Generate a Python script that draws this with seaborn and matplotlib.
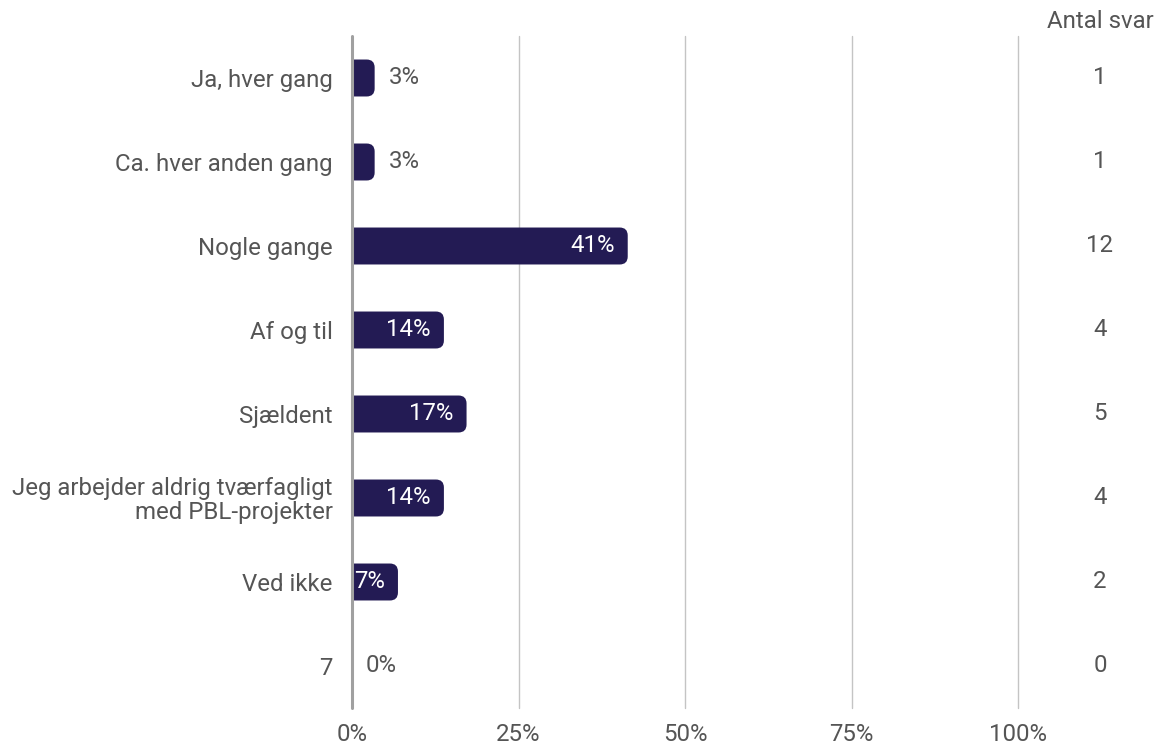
import matplotlib
matplotlib.use("Agg")
import matplotlib.pyplot as plt
import matplotlib.transforms as mtransforms
from matplotlib.path import Path
from matplotlib.patches import PathPatch
import seaborn as sns
import pandas as pd

categories = ["Ja, hver gang", "Ca. hver anden gang", "Nogle gange", "Af og til",
              "Sjældent", "Jeg arbejder aldrig tværfagligt\nmed PBL-projekter",
              "Ved ikke", "7"]
percentages = [3.4, 3.4, 41.4, 13.8, 17.2, 13.8, 6.9, 0.0]
pct_labels = ["3%", "3%", "41%", "14%", "17%", "14%", "7%", "0%"]
counts = [1, 1, 12, 4, 5, 4, 2, 0]
x_ticks = [0, 25, 50, 75, 100]
x_tick_labels = ["0%", "25%", "50%", "75%", "100%"]
count_header = "Antal svar"

BAR = "#231b54"
TXT = "#555555"
FS = 17.3

sns.set_theme(style="white")
plt.rcParams['font.family'] = ['Roboto', 'DejaVu Sans']

W, H = 1163, 747
fig = plt.figure(figsize=(W / 100, H / 100), dpi=100)
ax = fig.add_axes([352 / W, 39 / H, 666 / W, 672 / H])

df = pd.DataFrame({"cat": categories, "pct": percentages})
sns.barplot(data=df, y="cat", x="pct", orient="h", color=BAR, saturation=1,
            width=0.44, ax=ax, zorder=3)
ax.set_xlim(0, 100)
ax.set_ylim(len(categories) - 0.5, -0.5)

# replace bars with right-rounded shapes
rx = 8 * 100 / 666
ry = 8 / 84
for p in list(ax.patches):
    x0, y0, w, h = p.get_x(), p.get_y(), p.get_width(), p.get_height()
    p.remove()
    if w <= 0:
        continue
    r_x = min(rx, w / 2)
    y1 = y0 + h
    ylo, yhi = min(y0, y1), max(y0, y1)
    verts = [(x0, ylo), (x0 + w - r_x, ylo), (x0 + w, ylo), (x0 + w, ylo + ry),
             (x0 + w, yhi - ry), (x0 + w, yhi), (x0 + w - r_x, yhi),
             (x0, yhi), (x0, ylo)]
    codes = [Path.MOVETO, Path.LINETO, Path.CURVE3, Path.CURVE3,
             Path.LINETO, Path.CURVE3, Path.CURVE3, Path.LINETO, Path.CLOSEPOLY]
    ax.add_patch(PathPatch(Path(verts, codes), facecolor=BAR, edgecolor="none", zorder=3))

for s in ax.spines.values():
    s.set_visible(False)
ax.set_xlabel("")
ax.set_ylabel("")
ax.set_xticks(x_ticks)
ax.set_xticklabels(x_tick_labels)
ax.xaxis.grid(True, color="#c4c4c4", lw=1, zorder=0)
for gl in ax.get_xgridlines():
    gl.set_clip_on(False)
zl = ax.axvline(0, color="#a0a0a0", lw=2.2, zorder=4)
zl.set_clip_on(False)
ax.tick_params(axis="x", length=0, pad=11, labelsize=FS, labelcolor=TXT)
ax.tick_params(axis="y", length=0, pad=14, labelsize=FS, labelcolor=TXT)
for t in ax.get_yticklabels():
    t.set_horizontalalignment("right")
    t.set_multialignment("right")
    t.set_linespacing(1.05)

# value labels
for i, (v, lab) in enumerate(zip(percentages, pct_labels)):
    if v >= 5:
        ax.annotate(lab, xy=(v, i), xytext=(-13, 0), textcoords="offset pixels",
                    ha="right", va="center", color="white", fontsize=FS, zorder=5)
    else:
        ax.annotate(lab, xy=(v, i), xytext=(14, 0), textcoords="offset pixels",
                    ha="left", va="center", color=TXT, fontsize=FS, zorder=5)

# counts column
trans = mtransforms.blended_transform_factory(fig.transFigure, ax.transData)
for i, c in enumerate(counts):
    ax.text(1100 / W, i, str(c), transform=trans, ha="center", va="center",
            color=TXT, fontsize=FS)
fig.text(1100 / W, 1 - 22 / H, count_header, ha="center", va="center",
         color=TXT, fontsize=FS)

fig.savefig("out.png", dpi=100, facecolor="white")
